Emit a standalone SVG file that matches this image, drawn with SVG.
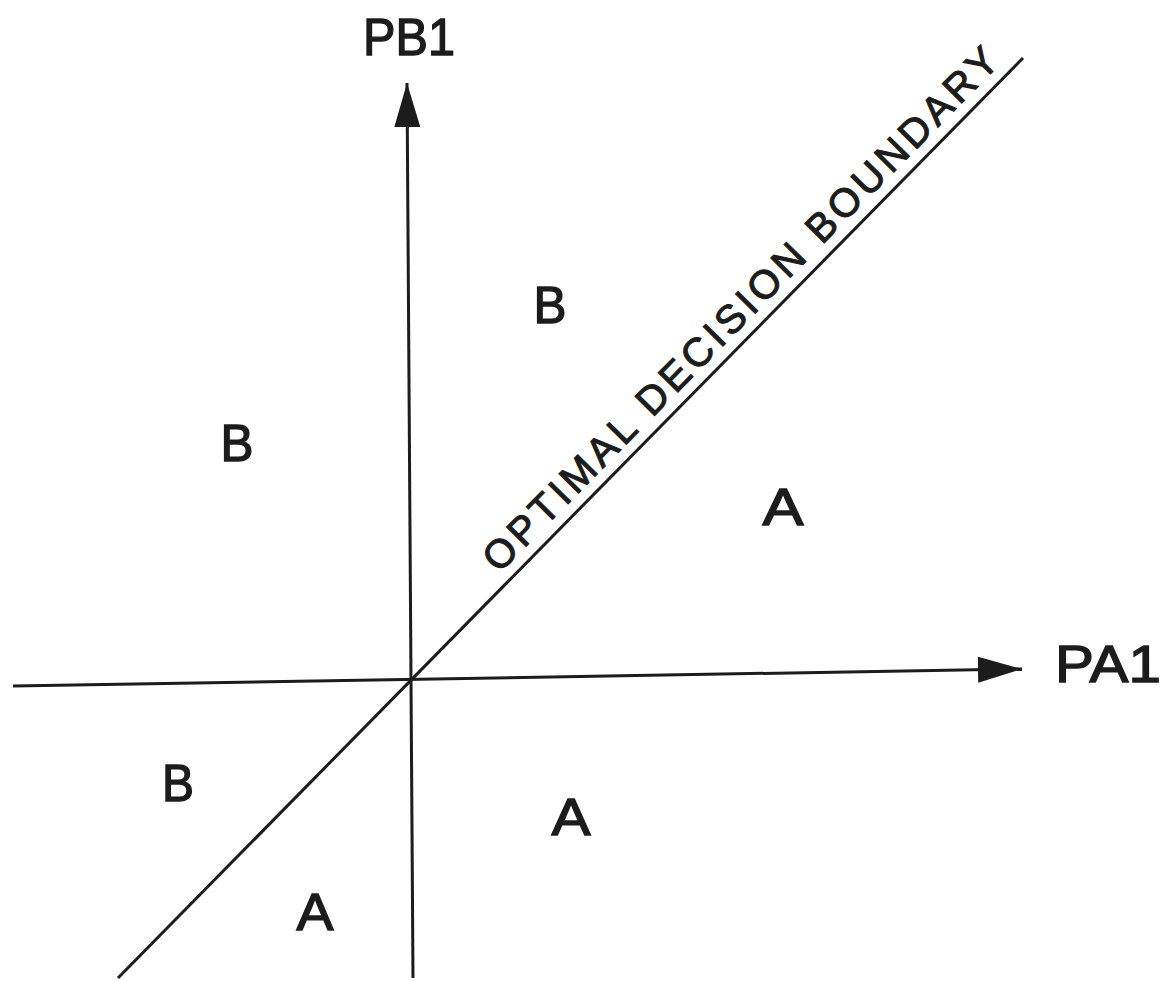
<svg xmlns="http://www.w3.org/2000/svg" width="1160" height="981" viewBox="0 0 1160 981">
<style>
.ln{stroke:#1c1c1c;stroke-width:3;fill:none}
.lbl{font-family:"Liberation Sans",Arial,sans-serif;fill:#1c1c1c;font-size:52px;stroke:#1c1c1c;stroke-width:1.4}
.diag{font-family:"Liberation Sans",Arial,sans-serif;fill:#1c1c1c;font-size:40px;stroke:#1c1c1c;stroke-width:1.1}
</style>
<defs>
<marker id="arr" markerUnits="userSpaceOnUse" markerWidth="44" markerHeight="26" viewBox="0 0 44 26" refX="44" refY="13" orient="auto">
<path d="M0,0 L44,13 L0,26 Z" fill="#1c1c1c"/>
</marker>
</defs>
<rect width="1160" height="981" fill="#ffffff"/>
<g id="connectors">
<line id="x-axis" class="ln" x1="13" y1="686" x2="1022" y2="669" marker-end="url(#arr)"/>
<line id="y-axis" class="ln" x1="413" y1="978" x2="407" y2="83" marker-end="url(#arr)"/>
<line id="boundary" class="ln" x1="118" y1="978" x2="1023" y2="58"/>
</g>
<g id="axis-labels">
<text id="pb1" class="lbl" x="363" y="55" font-size="56" textLength="92" lengthAdjust="spacingAndGlyphs">PB1</text>
<text id="pa1" class="lbl" x="1055" y="682" textLength="106" lengthAdjust="spacingAndGlyphs">PA1</text>
</g>
<g id="boundary-label">
<text class="diag" transform="translate(499,574) rotate(-45.5)" textLength="716" lengthAdjust="spacing">OPTIMAL DECISION BOUNDARY</text>
</g>
<g id="regions">
<text id="b-top" class="lbl" x="550" y="323" text-anchor="middle" textLength="33" lengthAdjust="spacingAndGlyphs">B</text>
<text id="b-left" class="lbl" x="237" y="461" text-anchor="middle" textLength="33" lengthAdjust="spacingAndGlyphs">B</text>
<text id="b-low" class="lbl" x="178" y="801" text-anchor="middle" textLength="32" lengthAdjust="spacingAndGlyphs">B</text>
<text id="a-right" class="lbl" x="783" y="525" text-anchor="middle" textLength="41" lengthAdjust="spacingAndGlyphs">A</text>
<text id="a-mid" class="lbl" x="571" y="835" text-anchor="middle" textLength="39" lengthAdjust="spacingAndGlyphs">A</text>
<text id="a-low" class="lbl" x="315" y="930" text-anchor="middle" textLength="37" lengthAdjust="spacingAndGlyphs">A</text>
</g>
</svg>
